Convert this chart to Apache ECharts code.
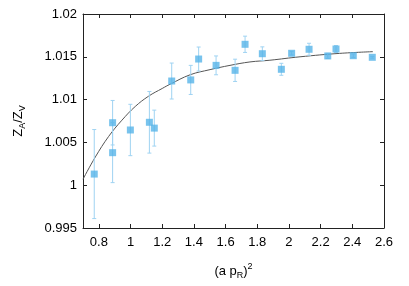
<!DOCTYPE html>
<html><head><meta charset="utf-8">
<script src="https://cdn.jsdelivr.net/npm/echarts@6/dist/echarts.min.js"></script>
<style>html,body{margin:0;padding:0;background:#fff}#c{width:409px;height:286px}</style>
</head><body><div id="c"></div>
<script>
const xVals = [0.771, 0.887, 0.887, 0.999, 1.119, 1.150, 1.260, 1.380, 1.430, 1.540, 1.660, 1.723, 1.832, 1.952, 2.017, 2.127, 2.245, 2.297, 2.406, 2.526];
const yVals = [1.0013, 1.0073, 1.0038, 1.00645, 1.00735, 1.00667, 1.01217, 1.0123, 1.01474, 1.0140, 1.01342, 1.01646, 1.01536, 1.01354, 1.01541, 1.01588, 1.0151, 1.01591, 1.01513, 1.01494];
const yErrs = [0.0052, 0.0026, 0.0035, 0.0030, 0.0036, 0.0021, 0.0021, 0.0017, 0.0014, 0.0011, 0.0013, 0.00095, 0.0008, 0.0007, 0.0002, 0.0007, 0.0003, 0.0004, 0.0002, 0.0001];
const fitX = [0.70, 0.778, 0.862, 0.946, 1.03, 1.114, 1.20, 1.25, 1.376, 1.502, 1.628, 1.754, 1.88, 2.07, 2.32, 2.53];
const fitY = [1.0007, 1.0033, 1.0057, 1.0076, 1.0092, 1.0104, 1.0113, 1.0118, 1.0129, 1.0135, 1.0140, 1.0144, 1.0146, 1.0150, 1.0154, 1.0156];
const xTicks = [0.8, 1.0, 1.2, 1.4, 1.6, 1.8, 2.0, 2.2, 2.4, 2.6];
const yTicks = [0.995, 1.0, 1.005, 1.01, 1.015, 1.02];

const font = '"Liberation Sans", Arial, sans-serif';
const pts = xVals.map((x, i) => [x, yVals[i], yErrs[i]]);
const fit = fitX.map((x, i) => [x, fitY[i]]);
const lineStyle = {color: '#222', width: 1};
const fmt = v => String(parseFloat(Number(v).toFixed(3)));

const chart = echarts.init(document.getElementById('c'));
const richBase = {
  a: {fontSize: 13, lineHeight: 18, fontFamily: font, color: '#000'},
  b: {fontSize: 9, lineHeight: 9, verticalAlign: 'bottom', fontFamily: font, color: '#000'},
  c: {fontSize: 9, lineHeight: 9, verticalAlign: 'top', fontFamily: font, color: '#000'}
};
chart.setOption({
  animation: false,
  grid: {left: 83, right: 25, top: 14, bottom: 58},
  xAxis: [{
    type: 'value', min: 0.7, max: 2.6, position: 'bottom',
    axisLine: {show: true, onZero: false, lineStyle},
    axisTick: {show: true, inside: true, length: 4, customValues: xTicks, lineStyle},
    axisLabel: {customValues: xTicks, formatter: fmt, color: '#000', fontSize: 13, fontFamily: font, margin: 8},
    splitLine: {show: false},
    name: '{a|(a p}{b|R}{a|)}{c|2}', nameLocation: 'middle', nameGap: 34,
    nameTextStyle: {rich: richBase}
  }, {
    type: 'value', min: 0.7, max: 2.6, position: 'top',
    axisLine: {show: true, onZero: false, lineStyle},
    axisTick: {show: true, inside: true, length: 4, customValues: xTicks, lineStyle},
    axisLabel: {show: false}, splitLine: {show: false}
  }],
  yAxis: [{
    type: 'value', min: 0.995, max: 1.02, position: 'left',
    axisLine: {show: true, onZero: false, lineStyle},
    axisTick: {show: true, inside: true, length: 4, customValues: yTicks, lineStyle},
    axisLabel: {customValues: yTicks, formatter: fmt, color: '#000', fontSize: 13, fontFamily: font, margin: 6},
    splitLine: {show: false},
    name: '{a|Z}{b|A}{a|/Z}{b|V}', nameLocation: 'middle', nameGap: 56, nameRotate: 90,
    nameTextStyle: {rich: richBase}
  }, {
    type: 'value', min: 0.995, max: 1.02, position: 'right',
    axisLine: {show: true, onZero: false, lineStyle},
    axisTick: {show: true, inside: true, length: 4, customValues: yTicks, lineStyle},
    axisLabel: {show: false}, splitLine: {show: false}
  }],
  series: [{
    type: 'line', data: fit, smooth: 0.4, symbol: 'none', xAxisIndex: 0, yAxisIndex: 0,
    lineStyle: {color: '#555', width: 1}, z: 1
  }, {
    type: 'custom', xAxisIndex: 0, yAxisIndex: 0, data: pts, encode: {x: 0, y: 1}, z: 2,
    renderItem: function (params, api) {
      const x = api.value(0), y = api.value(1), e = api.value(2);
      const t = api.coord([x, y + e]), b = api.coord([x, y - e]);
      const cw = 2;
      const st = {stroke: '#9fd3f2', lineWidth: 1};
      return {type: 'group', children: [
        {type: 'line', shape: {x1: t[0], y1: t[1], x2: b[0], y2: b[1]}, style: st},
        {type: 'line', shape: {x1: t[0] - cw, y1: t[1], x2: t[0] + cw, y2: t[1]}, style: st},
        {type: 'line', shape: {x1: b[0] - cw, y1: b[1], x2: b[0] + cw, y2: b[1]}, style: st}
      ]};
    }
  }, {
    type: 'scatter', xAxisIndex: 0, yAxisIndex: 0, data: pts, symbol: 'rect', symbolSize: 7, z: 3,
    itemStyle: {color: '#56B4E9'}
  }]
});
</script></body></html>
